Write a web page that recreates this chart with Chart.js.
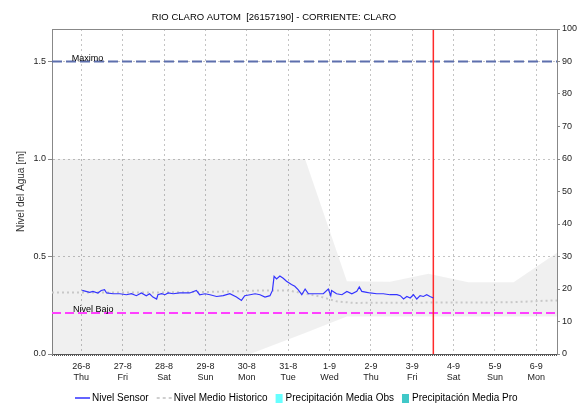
<!DOCTYPE html>
<html>
<head>
<meta charset="utf-8">
<script src="https://cdn.jsdelivr.net/npm/chart.js@4.4.0/dist/chart.umd.min.js"></script>
<style>
    body { margin: 0; background: #fff; }
    canvas { display: block; }
</style>
</head>
<body>
<canvas id="nivelChart" width="581" height="404"></canvas>
<script>
const titulo = 'RIO CLARO AUTOM  [26157190] - CORRIENTE: CLARO';

// eje x en dias desde el 26-8
const xMin = -0.71;
const xMax = 11.5;
const dayTicks = [0, 1, 2, 3, 4, 5, 6, 7, 8, 9, 10, 11];
const dayLabels = [
    ['26-8', 'Thu'], ['27-8', 'Fri'], ['28-8', 'Sat'], ['29-8', 'Sun'],
    ['30-8', 'Mon'], ['31-8', 'Tue'], ['1-9', 'Wed'], ['2-9', 'Thu'],
    ['3-9', 'Fri'], ['4-9', 'Sat'], ['5-9', 'Sun'], ['6-9', 'Mon']
];
const levelMax = 1.6667;
const levelTicks = [0, 0.5, 1.0, 1.5];
const percentTicks = [0, 10, 20, 30, 40, 50, 60, 70, 80, 90, 100];

const sensorDays = [0.02, 0.20, 0.28, 0.40, 0.48, 0.56, 0.61, 0.77, 0.93, 1.09, 1.21, 1.33, 1.45, 1.57,
    1.65, 1.73, 1.82, 1.85, 1.94, 2.02, 2.10, 2.22, 2.38, 2.54, 2.62, 2.78, 2.86, 2.99, 3.11, 3.27,
    3.43, 3.59, 3.75, 3.87, 3.95, 4.08, 4.20, 4.32, 4.44, 4.56, 4.62, 4.66, 4.72, 4.80, 4.88, 4.96,
    5.08, 5.16, 5.24, 5.33, 5.41, 5.49, 5.61, 5.85, 5.97, 6.03, 6.05, 6.17, 6.30, 6.42, 6.54, 6.66,
    6.72, 6.78, 6.90, 6.98, 7.14, 7.30, 7.46, 7.63, 7.71, 7.79, 7.87, 7.95, 8.03, 8.11, 8.19, 8.27,
    8.35, 8.43, 8.51];
const sensorLevels = [0.326, 0.316, 0.321, 0.313, 0.326, 0.330, 0.313, 0.309, 0.309, 0.304, 0.309, 0.299, 0.313, 0.299,
    0.309, 0.292, 0.282, 0.304, 0.309, 0.304, 0.313, 0.309, 0.313, 0.313, 0.313, 0.326, 0.304, 0.309, 0.304, 0.295,
    0.299, 0.309, 0.292, 0.275, 0.299, 0.304, 0.309, 0.304, 0.292, 0.299, 0.326, 0.398, 0.385, 0.400, 0.388, 0.373,
    0.356, 0.347, 0.330, 0.304, 0.333, 0.309, 0.309, 0.309, 0.333, 0.299, 0.326, 0.309, 0.304, 0.321, 0.309, 0.321,
    0.344, 0.321, 0.316, 0.313, 0.309, 0.309, 0.304, 0.304, 0.299, 0.282, 0.295, 0.287, 0.304, 0.282, 0.299, 0.295,
    0.304, 0.295, 0.287];

const historicoDays = [-0.71, 2.0, 3.0, 3.83, 4.32, 5.04, 5.12, 5.77, 6.17, 6.58, 8.92, 10.37, 11.41, 11.5];
const historicoLevels = [0.316, 0.316, 0.318, 0.322, 0.326, 0.326, 0.321, 0.295, 0.270, 0.262, 0.264, 0.265, 0.275, 0.275];

// banda gris de niveles historicos
const bandDays = [-0.71, 4.08, 5.41, 6.42, 7.46, 8.39, 9.36, 10.45, 11.5];
const bandUpper = [1.0, 1.0, 1.0, 0.373, 0.370, 0.412, 0.368, 0.368, 0.519];
const bandLower = [0, 0, 0.108, 0.192, 0.192, 0.192, 0.192, 0.192, 0.192];

const nivelMaximo = 1.5;
const nivelBajo = 0.21;
const horaActual = 8.51;

const leyenda = [
    {texto: 'Nivel Sensor', tipo: 'linea', color: '#3030ff', dash: []},
    {texto: 'Nivel Medio Historico', tipo: 'linea', color: '#c0c0c0', dash: [3, 3]},
    {texto: 'Precipitación Media Obs', tipo: 'caja', color: '#66ffff'},
    {texto: 'Precipitación Media Pro', tipo: 'caja', color: '#40c8c8'}
];

const fuente = "'Liberation Sans', Arial, sans-serif";
Chart.defaults.font.family = fuente;

function toPoints(xs, ys) {
    return xs.map((x, i) => ({x: x, y: ys[i]}));
}

const decoraciones = {
    id: 'decoraciones',
    afterDraw(chart) {
        const ctx = chart.ctx;
        const area = chart.chartArea;
        const sx = chart.scales.x;
        const sy = chart.scales.y;
        ctx.save();

        // marco superior y linea punteada inferior
        ctx.strokeStyle = '#888';
        ctx.lineWidth = 1;
        ctx.beginPath();
        ctx.moveTo(area.left, Math.round(area.top) + 0.5);
        ctx.lineTo(area.right, Math.round(area.top) + 0.5);
        ctx.stroke();
        ctx.strokeStyle = '#555';
        ctx.setLineDash([1, 1]);
        ctx.beginPath();
        ctx.moveTo(area.left, Math.round(area.bottom) + 1.5);
        ctx.lineTo(area.right, Math.round(area.bottom) + 1.5);
        ctx.stroke();
        ctx.setLineDash([]);

        ctx.fillStyle = '#000';
        ctx.font = '9.5px ' + fuente;
        ctx.textAlign = 'center';
        ctx.textBaseline = 'middle';
        ctx.fillText(titulo, 274, 17);

        ctx.font = '9px ' + fuente;
        ctx.textAlign = 'left';
        ctx.textBaseline = 'alphabetic';
        ctx.fillText('Maximo', sx.getPixelForValue(-0.23), sy.getPixelForValue(nivelMaximo) - 1);
        ctx.fillText('Nivel Bajo', sx.getPixelForValue(-0.2), sy.getPixelForValue(nivelBajo) - 1);

        // leyenda
        ctx.font = '10px ' + fuente;
        ctx.textBaseline = 'middle';
        let px = 75;
        const py = 398;
        leyenda.forEach(item => {
            let offset;
            if (item.tipo === 'linea') {
                ctx.strokeStyle = item.color;
                ctx.lineWidth = 1.5;
                ctx.setLineDash(item.dash);
                ctx.beginPath();
                ctx.moveTo(px, py);
                ctx.lineTo(px + 15, py);
                ctx.stroke();
                ctx.setLineDash([]);
                offset = 17;
            } else {
                ctx.fillStyle = item.color;
                ctx.fillRect(px, py - 4, 7, 9);
                offset = 10;
            }
            ctx.fillStyle = '#000';
            ctx.fillText(item.texto, px + offset, py);
            px += offset + ctx.measureText(item.texto).width + 8;
        });
        ctx.restore();
    }
};

new Chart('nivelChart', {
    type: 'line',
    data: {
        datasets: [
            {
                label: 'Nivel Sensor',
                data: toPoints(sensorDays, sensorLevels),
                borderColor: '#3434ff',
                borderWidth: 1.2
            },
            {
                label: 'Actual',
                data: [{x: horaActual, y: 0}, {x: horaActual, y: levelMax}],
                borderColor: '#ff2a2a',
                borderWidth: 1.5
            },
            {
                label: 'Maximo',
                data: [{x: xMin, y: nivelMaximo}, {x: xMax, y: nivelMaximo}],
                borderColor: '#5d6fad',
                borderWidth: 2,
                borderDash: [10, 4]
            },
            {
                label: 'Nivel Bajo',
                data: [{x: xMin, y: nivelBajo}, {x: xMax, y: nivelBajo}],
                borderColor: '#ff40ff',
                borderWidth: 2,
                borderDash: [9, 4]
            },
            {
                label: 'Nivel Medio Historico',
                data: toPoints(historicoDays, historicoLevels),
                borderColor: '#c8c8c8',
                borderWidth: 2,
                borderDash: [2, 3]
            },
            {
                label: 'Maximo historico',
                data: toPoints(bandDays, bandUpper),
                borderColor: 'transparent',
                backgroundColor: 'rgba(0,0,0,0.06)',
                fill: '+1'
            },
            {
                label: 'Minimo historico',
                data: toPoints(bandDays, bandLower),
                borderColor: 'transparent',
                fill: false
            }
        ]
    },
    options: {
        responsive: false,
        animation: false,
        devicePixelRatio: 1,
        layout: {padding: {top: 29, left: 0, right: 0, bottom: 0}},
        elements: {
            point: {radius: 0, hoverRadius: 0},
            line: {tension: 0}
        },
        plugins: {
            legend: {display: false},
            tooltip: {enabled: false},
            title: {display: false}
        },
        scales: {
            x: {
                type: 'linear',
                min: xMin,
                max: xMax,
                afterBuildTicks: scale => { scale.ticks = dayTicks.map(v => ({value: v})); },
                afterFit: scale => { scale.height = 50; },
                ticks: {
                    autoSkip: false,
                    maxRotation: 0,
                    padding: 7,
                    color: '#222',
                    font: {size: 9},
                    callback: (value, index) => dayLabels[index]
                },
                grid: {color: '#c4c4c4', drawTicks: false},
                border: {color: '#555', dash: [2, 3]}
            },
            y: {
                position: 'left',
                min: 0,
                max: levelMax,
                afterBuildTicks: scale => { scale.ticks = levelTicks.map(v => ({value: v})); },
                afterFit: scale => { scale.width = 52; },
                ticks: {
                    padding: 2,
                    color: '#222',
                    font: {size: 9},
                    callback: value => value.toFixed(1)
                },
                title: {
                    display: true,
                    text: 'Nivel del Agua [m]',
                    color: '#333',
                    font: {size: 10},
                    padding: {top: 15, bottom: 0}
                },
                grid: {color: '#c4c4c4', tickLength: 4, tickColor: '#888', tickBorderDash: []},
                border: {color: '#888', dash: [2, 3]}
            },
            y1: {
                position: 'right',
                min: 0,
                max: 100,
                afterBuildTicks: scale => { scale.ticks = percentTicks.map(v => ({value: v})); },
                afterFit: scale => { scale.width = 24; },
                ticks: {padding: 2, color: '#222', font: {size: 9}},
                grid: {drawOnChartArea: false, tickLength: 3, tickColor: '#888'},
                border: {color: '#888'}
            }
        }
    },
    plugins: [decoraciones]
});
</script>
</body>
</html>
